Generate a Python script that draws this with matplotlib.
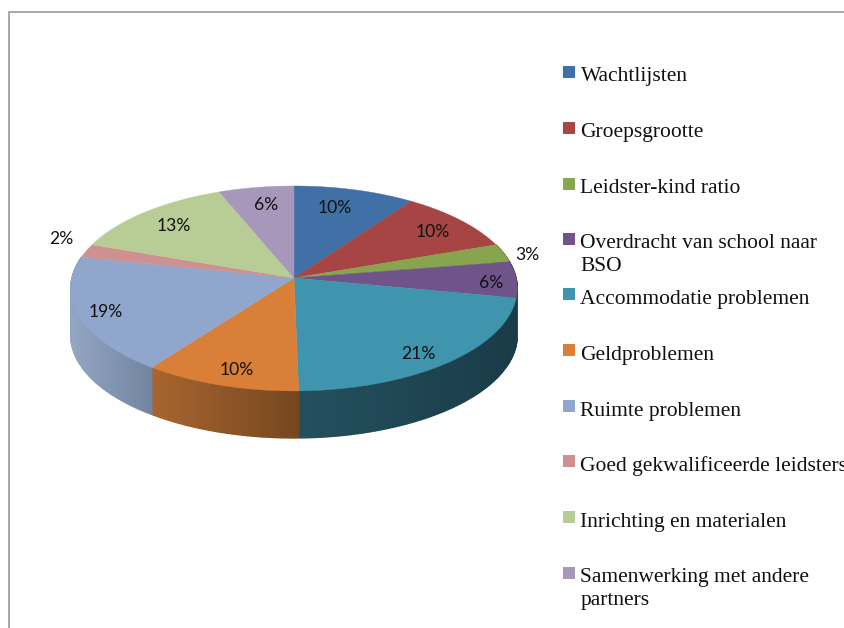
#!/usr/bin/env python3
import numpy as np
import matplotlib
matplotlib.use("Agg")
import matplotlib.pyplot as plt
import matplotlib.colors as mcolors

# Data
categories = [
    "Wachtlijsten", "Groepsgrootte", "Leidster-kind ratio",
    "Overdracht van school naar\nBSO", "Accommodatie problemen", "Geldproblemen",
    "Ruimte problemen", "Goed gekwalificeerde leidsters",
    "Inrichting en materialen", "Samenwerking met andere\npartners",
]
values = [9.7, 9.8, 2.9, 5.7, 21.6, 10.3, 18.4, 2.1, 13.5, 6.0]
pct_labels = ["10%", "10%", "3%", "6%", "21%", "10%", "19%", "2%", "13%", "6%"]

# Palette
top_colors = ["#4170a6", "#a64543", "#87a44e", "#6f548a", "#3f94ae",
              "#d97f38", "#90a6cd", "#ce9090", "#b8cd95", "#a797bb"]
wall_left = ["#2c4c72", "#722f2e", "#5c7035", "#4c395e", "#24505e",
             "#a8652f", "#93a6c4", "#8d6262", "#7e8c66", "#72677f"]
wall_right = ["#2c4c72", "#722f2e", "#5c7035", "#4c395e", "#1a3b48",
              "#74471f", "#71849f", "#8d6262", "#7e8c66", "#72677f"]
BORDER = "#a0a0a0"

# Layout in image pixels
CX, CY = 294, 278
RX, RY, PERSP = 222, 101.4, 0.102
DEPTH = 47
label_xy = [(335, 208), (433, 232), (527, 255), (491, 283), (418, 354),
            (237, 370), (106, 312), (61, 239), (174, 226), (266, 205)]
legend_baseline = [81, 137, 193, 248, 304, 360, 416, 471, 527, 582]
legend_marker = [72, 128, 184, 239, 294, 350, 406, 461, 517, 573]


def rim(theta, r=1.0):
    # theta clockwise from north, with a small perspective on the disc
    u = r * np.sin(theta)
    v = r * np.cos(theta)
    w = 1 + PERSP * v
    return CX + RX * u / w, CY - RY * v / w


fig = plt.figure(figsize=(8.44, 6.28), dpi=100, facecolor="white")
ax = fig.add_axes([0, 0, 1, 1])
ax.set_xlim(0, 844)
ax.set_ylim(628, 0)
ax.axis("off")

# Frame, open at right and bottom
ax.plot([8.5, 8.5, 844], [628, 11.5, 11.5], color=BORDER, lw=1.3, solid_joinstyle="miter")

edges = np.concatenate([[0], np.cumsum(values)]) / np.sum(values) * 2 * np.pi

# Side wall, strip by strip
for i in range(len(values)):
    th = np.linspace(edges[i], edges[i + 1], max(4, int(values[i] * 5)))
    x, y = rim(th)
    front = np.cos(th) < 0.2
    if not front.any():
        continue
    x0, x1 = x[front].min(), x[front].max()
    c0 = np.array(mcolors.to_rgb(wall_left[i]))
    c1 = np.array(mcolors.to_rgb(wall_right[i]))
    for j in range(len(th) - 1):
        t = ((x[j] + x[j + 1]) / 2 - x0) / max(x1 - x0, 1)
        col = c0 + (c1 - c0) * np.clip(t, 0, 1)
        ax.fill([x[j], x[j + 1], x[j + 1], x[j]],
                [y[j], y[j + 1], y[j + 1] + DEPTH, y[j] + DEPTH],
                color=col, lw=1.0, zorder=2)

# Top face
for i in range(len(values)):
    th = np.linspace(edges[i], edges[i + 1], max(6, int(values[i] * 6)))
    x, y = rim(th)
    ax.fill(np.r_[CX, x], np.r_[CY, y], color=top_colors[i], lw=0.3, zorder=3)

# Percent labels
for lab, (lx, ly) in zip(pct_labels, label_xy):
    ax.text(lx, ly, lab, ha="center", va="center", fontsize=12.6,
            family="Lato", color="#111111", zorder=4)

# Legend
for i, name in enumerate(categories):
    ax.fill([563, 575, 575, 563],
            [legend_marker[i] - 6, legend_marker[i] - 6, legend_marker[i] + 6, legend_marker[i] + 6],
            color=top_colors[i], lw=0)
    for k, part in enumerate(name.split("\n")):
        ax.text(580.5, legend_baseline[i] + k * 23, part, ha="left", va="baseline",
                fontsize=15.5, family="Liberation Serif", color="#111111", clip_on=True)

fig.savefig("out.png", dpi=100, facecolor="white")
